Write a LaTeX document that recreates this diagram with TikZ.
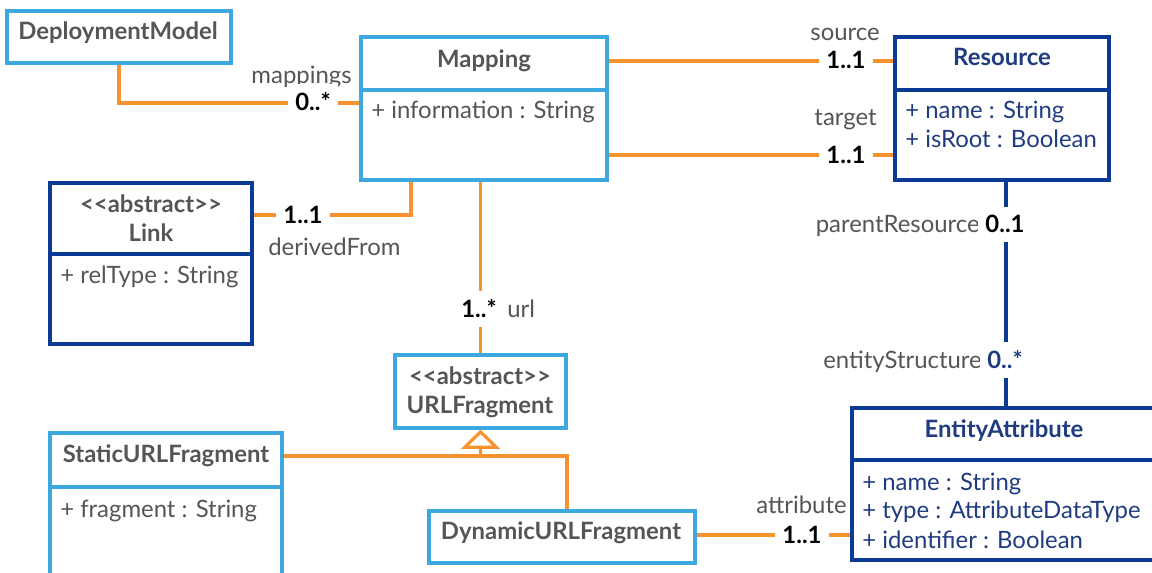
\documentclass[tikz,border=0pt]{standalone}
\usepackage{fontspec}
\setmainfont{Lato}
\usetikzlibrary{arrows.meta,fit}
\definecolor{lblue}{HTML}{3DA8E0}
\definecolor{dblue}{HTML}{0B3A94}
\definecolor{orng}{HTML}{F7922E}
\definecolor{txtgray}{HTML}{555555}
\definecolor{txtblue}{HTML}{1F3C80}
\def\fnt{\fontsize{13.6}{16}\selectfont}

\begin{document}
\begin{tikzpicture}[x=0.02cm,y=-0.02cm,
    every node/.style={font=\fnt},
    lcls/.style={draw=lblue,line width=1.8pt,inner sep=0pt},
    dcls/.style={draw=dblue,line width=1.8pt,inner sep=0pt},
    ttl/.style={anchor=base,inner sep=0pt,font=\fnt\bfseries,text=txtgray},
    attr/.style={anchor=base west,inner sep=0pt,text=txtgray},
    role/.style={inner sep=0pt,text=txtgray},
    mult/.style={anchor=base,fill=white,inner xsep=4pt,inner ysep=5pt,font=\fnt\bfseries},
    assoc/.style={draw=orng,line width=1.8pt},
    comp/.style={draw=dblue,line width=1.8pt}]
    \useasboundingbox (0,0) rectangle (1152,573);
    \clip (0,0) rectangle (1152,573);

    \node[lcls,fit={(7,11) (231,63)}] (DM) {};
    \node[lcls,fit={(361,37) (607,180)}] (MAP) {};
    \node[dcls,fit={(895,37) (1109,180)}] (RES) {};
    \node[dcls,fit={(50,183) (252,344)}] (LNK) {};
    \node[lcls,fit={(395,355) (566,428)}] (URLF) {};
    \node[lcls,fit={(50,433) (282,600)}] (SURLF) {};
    \node[lcls,fit={(429,511) (695,563)}] (DURLF) {};
    \node[dcls,fit={(852,408) (1170,560)}] (EA) {};

    \draw[lblue,line width=1.8pt] (MAP.west |- 0,90) -- (MAP.east |- 0,90);
    \draw[dblue,line width=1.8pt] (RES.west |- 0,90) -- (RES.east |- 0,90);
    \draw[dblue,line width=1.8pt] (LNK.west |- 0,254) -- (LNK.east |- 0,254);
    \draw[lblue,line width=1.8pt] (SURLF.west |- 0,487) -- (SURLF.east |- 0,487);
    \draw[dblue,line width=1.8pt] (EA.west |- 0,460) -- (EA.east |- 0,460);

    \node[ttl] (DMt) at (118,40) {DeploymentModel};
    \node[ttl] (MAPt) at (484,68) {Mapping};
    \node[attr] (MAPa) at (371,119) {+ information : String};
    \node[ttl,text=txtblue] (RESt) at (1002,66) {Resource};
    \node[attr,text=txtblue] (RESa) at (905,119) {+ name : String};
    \node[attr,text=txtblue] (RESb) at (905,148) {+ isRoot : Boolean};
    \node[ttl] (LNKs) at (151,213) {<{}<abstract>{}>};
    \node[ttl] (LNKt) at (151,242) {Link};
    \node[attr] (LNKa) at (60,284) {+ relType : String};
    \node[ttl] (URLFs) at (480,385) {<{}<abstract>{}>};
    \node[ttl] (URLFt) at (480,414) {URLFragment};
    \node[ttl] (SURLFt) at (166,463) {StaticURLFragment};
    \node[attr] (SURLFa) at (60,518) {+ fragment : String};
    \node[ttl] (DURLFt) at (561,540) {DynamicURLFragment};
    \node[ttl,text=txtblue] (EAt) at (1004,438) {EntityAttribute};
    \node[attr,text=txtblue] (EAa) at (862,491) {+ name : String};
    \node[attr,text=txtblue] (EAb) at (862,519) {+ type : AttributeDataType};
    \node[attr,text=txtblue] (EAc) at (862,548) {+ identifier : Boolean};

    \draw[assoc] (DM.south) |- (MAP.west |- 0,103);
    \draw[assoc] (MAP.east |- 0,61) -- (RES.west |- 0,61);
    \draw[assoc] (MAP.east |- 0,155) -- (RES.west |- 0,155);
    \draw[assoc] (MAP.south -| 411,0) |- (LNK.east |- 0,215);
    \draw[assoc] (MAP.south -| URLF.north) -- (URLF.north);
    \draw[assoc] (DURLF.east |- 0,535) -- (EA.west |- 0,535);
    \draw[comp] (RES.south -| 1006,0) -- (EA.north -| 1006,0);
    \coordinate (GJ) at (URLF.south |- 0,456);
    \draw[assoc] (SURLF.east |- 0,456) -| (DURLF.north -| 567,0);
    \draw[assoc,-{Triangle[open,length=11pt,width=22pt]}] (GJ) -- (URLF.south);

    \node[role,anchor=base east] (MAPr) at (352,84) {mappings};
    \node[role,anchor=base east] (SRCr) at (880,41) {source};
    \node[role,anchor=base east] (TGTr) at (877,126) {target};
    \node[role,anchor=base west] (DERr) at (268,256) {derivedFrom};
    \node[role,anchor=base west] (URLr) at (507,318) {url};
    \node[role,anchor=base east] (PARr) at (980,233) {parentResource};
    \node[role,anchor=base east] (ENTr) at (982,369) {entityStructure};
    \node[role,anchor=base east] (ATTr) at (847,514) {attribute};

    \node[mult] (MAPm) at (313,111) {0..*};
    \node[mult] (SRCm) at (846,69) {1..1};
    \node[mult] (TGTm) at (846,164) {1..1};
    \node[mult] (DERm) at (303,224) {1..1};
    \node[mult] (URLm) at (479,318) {1..*};
    \node[mult] (PARm) at (1005,233) {0..1};
    \node[mult,text=txtblue] (ENTm) at (1005,369) {0..*};
    \node[mult] (ATTm) at (802,543) {1..1};
\end{tikzpicture}
\end{document}
